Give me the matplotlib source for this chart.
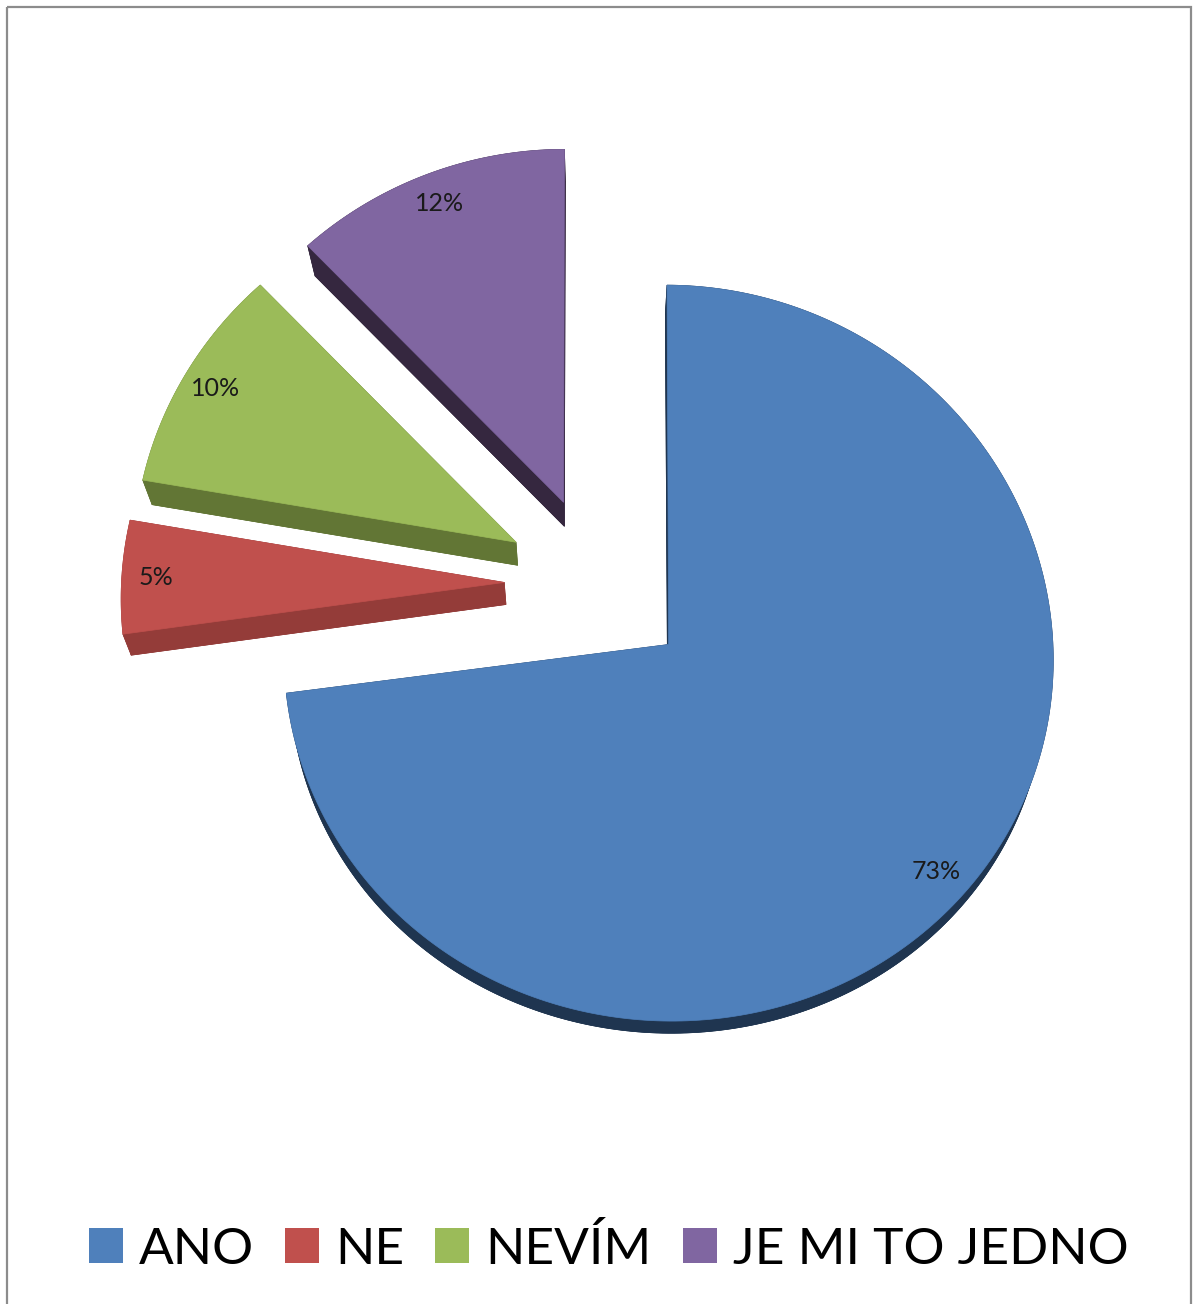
import numpy as np
import matplotlib
matplotlib.use("Agg")
import matplotlib.pyplot as plt
from matplotlib.patches import Polygon, Rectangle, Patch

# ---- data ----
categories = ["ANO", "NE", "NEVÍM", "JE MI TO JEDNO"]
values = [73, 5, 10, 12]
pct_labels = ["73%", "5%", "10%", "12%"]

# ---- styles ----
top_colors = ["#4f80bb", "#c0504d", "#9bbb59", "#8066a1"]
side_colors = ["#1f3550", "#943c39", "#627635", "#35273f"]

W, H = 1194, 1304
fig = plt.figure(figsize=(W / 100, H / 100), dpi=100)
ax = fig.add_axes([0, 0, 1, 1])
ax.set_xlim(0, W)
ax.set_ylim(H, 0)
ax.axis("off")

# projection of the (tilted, exploded) pie plane onto the page
CX, CY = 598.0, 585.0
SX, SY = 383.0, 365.0
P = 0.0233
BEND = 4.0
EXPLODE = 0.245
D0, D1 = 22.0, 8.5
VP = 1200.0


def project(u, v, drop=False):
    u = np.asarray(u, float)
    v = np.asarray(v, float)
    w = 1 + P * v
    X = CX + SX * u / w
    Y = CY - SY * v / w + BEND * u ** 2
    if drop:
        d = D0 + D1 * v
        X = X + (CX - X) * d / VP
        Y = Y + d
    return np.column_stack([X, Y])


total = float(sum(values))
cum = np.concatenate([[0], np.cumsum(values)]) / total
starts = 90 - cum[:-1] * 360
ends = 90 - cum[1:] * 360

for i in range(len(values)):
    a1, a2 = np.radians(starts[i]), np.radians(ends[i])
    mid = 0.5 * (a1 + a2)
    eu, ev = EXPLODE * np.cos(mid), EXPLODE * np.sin(mid)
    t = np.linspace(a1, a2, 300)
    au, av = eu + np.cos(t), ev + np.sin(t)

    arc_top = project(au, av)
    arc_bot = project(au, av, drop=True)
    vt = project([eu], [ev])
    vb = project([eu], [ev], drop=True)

    sc = side_colors[i]
    ax.add_patch(Polygon(np.vstack([vb, arc_bot]), closed=True, fc=sc, ec=sc, lw=0.5))
    ax.add_patch(Polygon(np.vstack([arc_top, arc_bot[::-1]]), closed=True, fc=sc, ec=sc, lw=0.5))
    for k in (0, len(t) - 1):
        quad = np.vstack([vt, arc_top[k:k + 1], arc_bot[k:k + 1], vb])
        ax.add_patch(Polygon(quad, closed=True, fc=sc, ec=sc, lw=0.5))
    ax.add_patch(Polygon(np.vstack([vt, arc_top]), closed=True,
                         fc=top_colors[i], ec=top_colors[i], lw=0.5))

    lp = project([eu + 0.91 * np.cos(mid)], [ev + 0.91 * np.sin(mid)])[0]
    ax.text(lp[0], lp[1], pct_labels[i], ha="center", va="center",
            fontsize=18, family="Lato", color="#1a1a1a")

# chart border
ax.add_patch(Rectangle((7, 7), 1184, 1320, fill=False, ec="#8c8c8c", lw=1.6))

handles = [Patch(fc=c, ec="none") for c in top_colors]
fig.legend(handles, categories, loc="center", bbox_to_anchor=(608.5 / W, 1 - 1249 / H),
           ncol=4, frameon=False, prop={"family": "Lato", "size": 37},
           handlelength=0.66, handleheight=0.66, handletextpad=0.31,
           columnspacing=0.61, borderaxespad=0, borderpad=0)

fig.savefig("out.png", dpi=100, facecolor="white")
